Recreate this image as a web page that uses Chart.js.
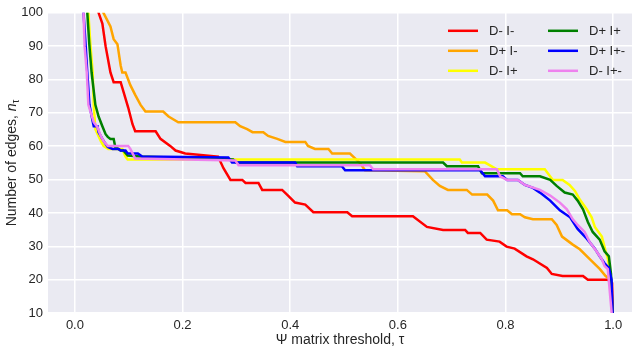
<!DOCTYPE html>
<html>
<head>
<meta charset="utf-8">
<script src="https://cdn.jsdelivr.net/npm/chart.js@4"></script>
<style>
  body { margin: 0; background: #fff; }
  #wrap { width: 640px; height: 349px; }
</style>
</head>
<body>
<div id="wrap"><canvas id="myChart" width="640" height="349"></canvas></div>
<script>
  // [tau, n_tau] pairs
  const dMinusIMinus = [[0.040,105],[0.044,100],[0.051,96.8],[0.057,90.0],[0.066,82.1],[0.072,79.2],[0.085,79.2],[0.099,71.6],[0.107,66.6],[0.112,64.5],[0.150,64.5],[0.159,62.2],[0.177,60.1],[0.187,58.7],[0.205,57.8],[0.266,56.9],[0.276,53.4],[0.289,49.9],[0.311,49.9],[0.317,49.0],[0.341,49.0],[0.348,46.9],[0.385,46.9],[0.396,45.2],[0.409,43.1],[0.428,42.5],[0.443,40.2],[0.506,40.2],[0.515,39.0],[0.628,39.0],[0.654,35.8],[0.684,34.9],[0.725,34.9],[0.730,34.0],[0.753,34.0],[0.765,32.0],[0.789,31.4],[0.802,29.9],[0.817,29.3],[0.839,27.0],[0.851,26.1],[0.877,23.5],[0.886,21.7],[0.906,21.1],[0.944,21.1],[0.953,20.0],[0.988,20.0],[0.994,19.7],[0.998,19.0],[1.0,5]];
  const dPlusIMinus = [[0.050,105],[0.053,100],[0.066,95.9],[0.072,92.1],[0.079,90.6],[0.085,84.2],[0.088,82.1],[0.094,82.1],[0.103,78.3],[0.112,75.4],[0.122,72.4],[0.131,70.4],[0.164,70.4],[0.174,68.9],[0.192,67.2],[0.298,67.2],[0.307,66.0],[0.320,65.1],[0.330,64.2],[0.350,64.2],[0.359,63.1],[0.376,62.2],[0.391,61.3],[0.428,61.3],[0.433,60.1],[0.446,59.2],[0.471,59.2],[0.478,57.8],[0.511,57.8],[0.521,56.3],[0.530,54.9],[0.539,52.8],[0.650,52.5],[0.665,49.9],[0.678,48.1],[0.693,46.9],[0.728,46.9],[0.738,45.5],[0.766,45.5],[0.777,43.7],[0.786,40.8],[0.803,40.8],[0.812,39.6],[0.827,39.6],[0.836,38.7],[0.851,38.1],[0.886,38.1],[0.895,36.4],[0.905,32.9],[0.925,30.5],[0.938,29.1],[0.957,26.1],[0.975,23.2],[0.986,21.1],[0.990,20.6],[0.995,20.3],[1.0,5]];
  const dMinusIPlus = [[0.023,105],[0.025,100],[0.029,90.0],[0.033,82.1],[0.035,72.4],[0.038,65.1],[0.048,61.6],[0.053,60.1],[0.062,59.2],[0.088,59.2],[0.094,56.9],[0.098,56.0],[0.715,56.0],[0.719,55.1],[0.762,55.1],[0.784,53.1],[0.873,53.1],[0.888,49.9],[0.906,49.9],[0.919,48.4],[0.929,46.6],[0.938,44.0],[0.951,41.1],[0.960,38.7],[0.966,35.8],[0.979,32.9],[0.986,28.5],[0.990,26.4],[0.994,22.6],[1.0,5]];
  const dPlusIPlus = [[0.021,105],[0.023,100],[0.027,90.0],[0.031,82.1],[0.038,72.4],[0.044,68.9],[0.051,66.0],[0.057,63.6],[0.061,62.8],[0.066,62.2],[0.072,62.2],[0.075,59.8],[0.085,58.7],[0.090,58.7],[0.098,57.2],[0.122,56.9],[0.294,56.0],[0.300,55.1],[0.684,55.1],[0.691,54.0],[0.749,54.0],[0.756,51.9],[0.827,51.9],[0.832,51.0],[0.864,51.0],[0.883,49.9],[0.895,48.1],[0.910,46.1],[0.925,45.5],[0.934,43.7],[0.944,41.1],[0.953,37.3],[0.962,34.3],[0.975,32.0],[0.984,28.5],[0.992,27.0],[0.996,21.7],[1.0,5]];
  const dPlusIPlusMinus = [[0.014,105],[0.016,100],[0.020,90.0],[0.023,82.1],[0.027,72.4],[0.033,67.5],[0.035,66.0],[0.042,66.0],[0.044,64.2],[0.051,62.2],[0.057,60.7],[0.061,59.8],[0.070,59.2],[0.081,59.2],[0.085,58.7],[0.094,58.7],[0.098,57.8],[0.117,57.8],[0.125,56.9],[0.285,56.6],[0.292,55.1],[0.409,55.1],[0.413,54.0],[0.496,54.0],[0.502,52.8],[0.753,52.8],[0.762,51.0],[0.795,51.0],[0.803,49.9],[0.823,49.9],[0.836,48.4],[0.851,47.5],[0.864,46.1],[0.883,43.7],[0.901,40.8],[0.920,38.7],[0.934,35.2],[0.951,32.3],[0.966,29.3],[0.975,27.0],[0.984,24.9],[0.992,23.5],[0.997,20.0],[1.0,5]];
  const dMinusIPlusMinus = [[0.013,105],[0.016,100],[0.018,90.0],[0.022,82.1],[0.025,72.4],[0.035,67.2],[0.042,65.7],[0.048,63.1],[0.053,61.6],[0.061,60.1],[0.099,60.1],[0.103,59.2],[0.112,56.3],[0.298,55.7],[0.304,54.3],[0.548,54.3],[0.554,53.1],[0.784,53.1],[0.790,51.0],[0.803,49.9],[0.823,49.9],[0.836,48.4],[0.864,46.9],[0.883,45.2],[0.901,43.1],[0.914,41.1],[0.925,38.1],[0.934,36.4],[0.947,34.3],[0.956,31.4],[0.969,28.5],[0.979,26.1],[0.984,24.1],[0.990,23.2],[1.0,5]];

  const seriesLabels = ['D- I-', 'D+ I-', 'D- I+', 'D+ I+', 'D+ I+-', 'D- I+-'];
  const seriesData = [dMinusIMinus, dPlusIMinus, dMinusIPlus, dPlusIPlus, dPlusIPlusMinus, dMinusIPlusMinus];
  const seriesColors = ['#ff0000', '#ffa500', '#ffff00', '#008000', '#0000ff', '#ee82ee'];
  const yTicks = [10, 20, 30, 40, 50, 60, 70, 80, 90, 100];
  const xTicks = [0.0, 0.2, 0.4, 0.6, 0.8, 1.0];

  const textColor = '#262626';
  Chart.defaults.font.family = '"Liberation Sans", Arial, sans-serif';

  const bgPlugin = {
    id: 'bg',
    beforeDraw(chart) {
      const a = chart.chartArea, c = chart.ctx;
      c.save();
      c.fillStyle = '#eaeaf2';
      c.fillRect(a.left, a.top, a.right - a.left, a.bottom - a.top);
      c.restore();
    }
  };

  // y title with italic n and subscript tau, plus 2-column legend
  const extrasPlugin = {
    id: 'extras',
    afterDraw(chart) {
      const c = chart.ctx, a = chart.chartArea;
      c.save();
      c.fillStyle = textColor;
      c.textBaseline = 'middle';
      const f = '"Liberation Sans", Arial, sans-serif';
      const p1 = 'Number of edges, ';
      c.font = '14px ' + f;
      const w1 = c.measureText(p1).width;
      c.font = 'italic 14px ' + f;
      const w2 = c.measureText('n').width;
      c.font = '10px ' + f;
      const w3 = c.measureText('τ').width;
      const total = w1 + w2 + w3;
      c.translate(12, (a.top + a.bottom) / 2);
      c.rotate(-Math.PI / 2);
      c.textAlign = 'left';
      let x = -total / 2;
      c.font = '14px ' + f;
      c.fillText(p1, x, 0);
      x += w1;
      c.font = 'italic 14px ' + f;
      c.fillText('n', x, 0);
      x += w2;
      c.font = '10px ' + f;
      c.fillText('τ', x, 4);
      c.restore();

      c.save();
      c.font = '13px ' + f;
      c.textBaseline = 'middle';
      c.textAlign = 'left';
      chart.data.datasets.forEach((ds, i) => {
        const col = Math.floor(i / 3), row = i % 3;
        const lx = a.right - 184 + col * 100;
        const ly = a.top + 18 + row * 20;
        c.strokeStyle = ds.borderColor;
        c.lineWidth = 2.5;
        c.beginPath();
        c.moveTo(lx, ly);
        c.lineTo(lx + 30, ly);
        c.stroke();
        c.fillStyle = textColor;
        c.fillText(ds.label, lx + 41, ly + 1);
      });
      c.restore();
    }
  };

  const ctx = document.getElementById('myChart');
  new Chart(ctx, {
    type: 'line',
    data: {
      datasets: seriesLabels.map((label, i) => ({
        label: label,
        data: seriesData[i].map(p => ({ x: p[0], y: p[1] })),
        borderColor: seriesColors[i],
        backgroundColor: seriesColors[i],
        borderWidth: 2.5,
        pointRadius: 0,
        tension: 0,
        clip: 0,
        order: seriesLabels.length - i
      }))
    },
    options: {
      responsive: false,
      animation: false,
      layout: { padding: { top: 6, right: 8, left: 0, bottom: 0 } },
      plugins: {
        legend: { display: false },
        tooltip: { enabled: false }
      },
      scales: {
        x: {
          type: 'linear',
          min: -0.05,
          max: 1.035,
          afterBuildTicks: s => { s.ticks = xTicks.map(v => ({ value: v })); },
          afterFit: s => { s.height = 36; },
          ticks: {
            color: textColor,
            font: { size: 13 },
            padding: 5,
            callback: v => v.toFixed(1)
          },
          grid: { color: '#ffffff', lineWidth: 1.5, drawTicks: false },
          border: { display: false },
          title: {
            display: true,
            text: 'Ψ matrix threshold, τ',
            color: textColor,
            font: { size: 14 },
            padding: { top: 0, bottom: 0 }
          }
        },
        y: {
          min: 10,
          max: 100,
          afterBuildTicks: s => { s.ticks = yTicks.map(v => ({ value: v })); },
          afterFit: s => { s.width = 48; },
          ticks: {
            color: textColor,
            font: { size: 13 },
            padding: 5
          },
          grid: { color: '#ffffff', lineWidth: 1.5, drawTicks: false },
          border: { display: false }
        }
      }
    },
    plugins: [bgPlugin, extrasPlugin]
  });
</script>
</body>
</html>
